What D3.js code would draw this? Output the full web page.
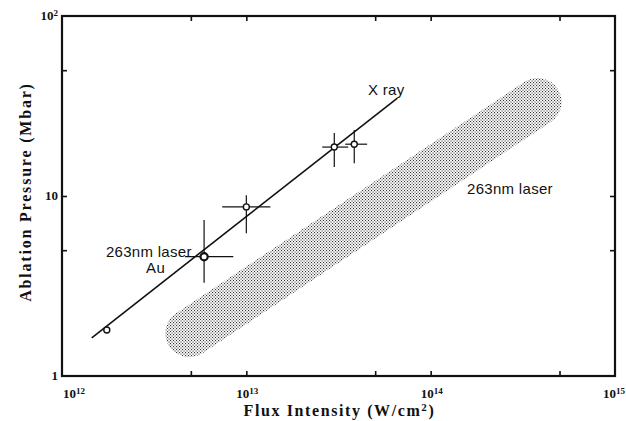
<!DOCTYPE html>
<html>
<head>
<meta charset="utf-8">
<script src="https://cdn.jsdelivr.net/npm/d3@7"></script>
<style>
  html, body { margin: 0; padding: 0; background: #ffffff; }
  svg { display: block; }
</style>
</head>
<body>
<div id="chart"></div>
<script>
// Ablation pressure vs flux intensity (log-log)

// X ray data points (flux in W/cm2, pressure in Mbar)
const xrayFlux = [1.75e12, 5.9e12, 1.0e13, 3.0e13, 3.85e13];
const xrayPressure = [1.8, 4.6, 8.7, 18.7, 19.4];
// error bar extents (null = no bar)
const xrayFluxLow = [null, 4.65e12, 7.4e12, 2.58e13, 3.44e13];
const xrayFluxHigh = [null, 8.5e12, 1.35e13, 3.57e13, 4.52e13];
const xrayPressLow = [null, 3.3, 6.2, 14.5, 15.2];
const xrayPressHigh = [null, 7.35, 10.1, 22.4, 23.3];

// fitted X ray line
const fitFlux = [1.45e12, 6.6e13];
const fitPressure = [1.63, 35];

// 263nm laser band (centreline ends)
const bandFlux = [4.9e12, 3.8e14];
const bandPressure = [1.73, 33.3];

// axis ticks
const xTickExponents = [12, 13, 14, 15];
const xMinorTicks = [5e12, 1e13, 5e13, 1e14, 5e14];
const yMinorTicks = [5, 10, 50];
const yTickLabels = [
    { value: 1, base: '1', sup: '' },
    { value: 10, base: '10', sup: '' },
    { value: 100, base: '10', sup: '2' }
];

// in-plot text labels
const annotations = [
    { text: 'X ray', flux: 4.57e13, pressure: 36.4 },
    { text: '263nm laser', flux: 1.575e14, pressure: 10.2 },
    { text: '263nm laser', flux: 1.73e12, pressure: 4.6 },
    { text: 'Au', flux: 2.86e12, pressure: 3.74 }
];

const width = 626;
const height = 421;
const margin = { top: 16, right: 11, bottom: 45, left: 62 };
const plotW = width - margin.left - margin.right;
const plotH = height - margin.top - margin.bottom;

const serif = "'Liberation Serif', 'DejaVu Serif', serif";
const sans = "'Liberation Sans', 'DejaVu Sans', sans-serif";

const svg = d3.select('#chart')
    .append('svg')
    .attr('width', width)
    .attr('height', height);

const x = d3.scaleLog().domain([1e12, 1e15]).range([0, plotW]);
const y = d3.scaleLog().domain([1, 100]).range([plotH, 0]);

const g = svg.append('g')
    .attr('transform', `translate(${margin.left},${margin.top})`);

// stipple pattern for the laser band
const defs = svg.append('defs');
const pattern = defs.append('pattern')
    .attr('id', 'stipple')
    .attr('width', 3)
    .attr('height', 3)
    .attr('patternUnits', 'userSpaceOnUse');
pattern.append('rect').attr('x', 0).attr('y', 0).attr('width', 1.1).attr('height', 1.1).attr('fill', '#333');
pattern.append('rect').attr('x', 1.5).attr('y', 1.5).attr('width', 1.1).attr('height', 1.1).attr('fill', '#333');

// laser band: thick round-capped stroke painted with the stipple
g.append('line')
    .attr('x1', x(bandFlux[0]))
    .attr('y1', y(bandPressure[0]))
    .attr('x2', x(bandFlux[1]))
    .attr('y2', y(bandPressure[1]))
    .attr('stroke', 'url(#stipple)')
    .attr('stroke-width', 48)
    .attr('stroke-linecap', 'round');

// axes: inward ticks, no labels, frame drawn separately
const tickLen = 5;
g.append('g')
    .attr('transform', `translate(0,${plotH})`)
    .call(d3.axisBottom(x).tickValues(xMinorTicks).tickSize(-tickLen).tickFormat(''));
g.append('g')
    .call(d3.axisTop(x).tickValues(xMinorTicks).tickSize(-tickLen).tickFormat(''));
g.append('g')
    .call(d3.axisLeft(y).tickValues(yMinorTicks).tickSize(-tickLen).tickFormat(''));
g.append('g')
    .attr('transform', `translate(${plotW},0)`)
    .call(d3.axisRight(y).tickValues(yMinorTicks).tickSize(-tickLen).tickFormat(''));
g.selectAll('.domain').remove();
g.selectAll('.tick line').attr('stroke', '#111').attr('stroke-width', 1.6);

// frame
g.append('rect')
    .attr('width', plotW)
    .attr('height', plotH)
    .attr('fill', 'none')
    .attr('stroke', '#111')
    .attr('stroke-width', 2.2);

// x tick labels 10^n (first starts at tick, last ends at the page edge)
const lastExp = xTickExponents[xTickExponents.length - 1];
const xLab = g.append('g')
    .selectAll('text')
    .data(xTickExponents)
    .enter()
    .append('text')
    .attr('x', d => d === lastExp ? x(Math.pow(10, d)) + 10 : x(Math.pow(10, d)) + 1)
    .attr('y', plotH + 22)
    .attr('text-anchor', d => d === xTickExponents[0] ? 'start' : d === lastExp ? 'end' : 'middle')
    .attr('font-family', serif)
    .attr('font-weight', 'bold')
    .attr('font-size', '13px')
    .attr('fill', '#111');
xLab.append('tspan').text('10');
xLab.append('tspan')
    .attr('dy', -4)
    .attr('font-size', '9px')
    .text(d => d);

// y tick labels
const yLab = g.append('g')
    .selectAll('text')
    .data(yTickLabels)
    .enter()
    .append('text')
    .attr('x', -4)
    .attr('y', d => y(d.value) + 4)
    .attr('text-anchor', 'end')
    .attr('font-family', serif)
    .attr('font-weight', 'bold')
    .attr('font-size', '13px')
    .attr('fill', '#111');
yLab.append('tspan').text(d => d.base);
yLab.append('tspan')
    .attr('dy', -4)
    .attr('font-size', '9px')
    .text(d => d.sup);

// axis titles
const xTitle = svg.append('text')
    .attr('x', margin.left + plotW / 2 + 1)
    .attr('y', 416)
    .attr('text-anchor', 'middle')
    .attr('font-family', serif)
    .attr('font-weight', 'bold')
    .attr('font-size', '16px')
    .attr('letter-spacing', '1.6px')
    .attr('fill', '#111');
xTitle.append('tspan').text('Flux Intensity (W/cm');
xTitle.append('tspan').attr('dy', -5).attr('font-size', '11px').text('2');
xTitle.append('tspan').attr('dy', 5).text(')');

svg.append('text')
    .attr('transform', 'translate(31,192) rotate(-90)')
    .attr('text-anchor', 'middle')
    .attr('font-family', serif)
    .attr('font-weight', 'bold')
    .attr('font-size', '16px')
    .attr('letter-spacing', '1.8px')
    .attr('fill', '#111')
    .text('Ablation Pressure (Mbar)');

// fitted line
g.append('line')
    .attr('x1', x(fitFlux[0]))
    .attr('y1', y(fitPressure[0]))
    .attr('x2', x(fitFlux[1]))
    .attr('y2', y(fitPressure[1]))
    .attr('stroke', '#111')
    .attr('stroke-width', 1.6);

// error bars
const pts = xrayFlux.map((f, i) => ({
    f: f, p: xrayPressure[i],
    fl: xrayFluxLow[i], fh: xrayFluxHigh[i],
    pl: xrayPressLow[i], ph: xrayPressHigh[i]
}));
const withErr = pts.filter(d => d.fl !== null);

g.selectAll('.hbar')
    .data(withErr)
    .enter()
    .append('line')
    .attr('x1', d => x(d.fl))
    .attr('x2', d => x(d.fh))
    .attr('y1', d => y(d.p))
    .attr('y2', d => y(d.p))
    .attr('stroke', '#111')
    .attr('stroke-width', 1.2);

g.selectAll('.vbar')
    .data(withErr)
    .enter()
    .append('line')
    .attr('x1', d => x(d.f))
    .attr('x2', d => x(d.f))
    .attr('y1', d => y(d.pl))
    .attr('y2', d => y(d.ph))
    .attr('stroke', '#111')
    .attr('stroke-width', 1.2);

// point markers
g.selectAll('.pt')
    .data(pts)
    .enter()
    .append('circle')
    .attr('cx', d => x(d.f))
    .attr('cy', d => y(d.p))
    .attr('r', (d, i) => i === 1 ? 3.6 : 3)
    .attr('fill', '#fff')
    .attr('stroke', '#111')
    .attr('stroke-width', (d, i) => i === 1 ? 2.2 : 1.4);

// annotations
g.selectAll('.ann')
    .data(annotations)
    .enter()
    .append('text')
    .attr('x', d => x(d.flux))
    .attr('y', d => y(d.pressure))
    .attr('font-family', sans)
    .attr('font-size', '15px')
    .attr('letter-spacing', '0.3px')
    .attr('fill', '#111')
    .text(d => d.text);
</script>
</body>
</html>
